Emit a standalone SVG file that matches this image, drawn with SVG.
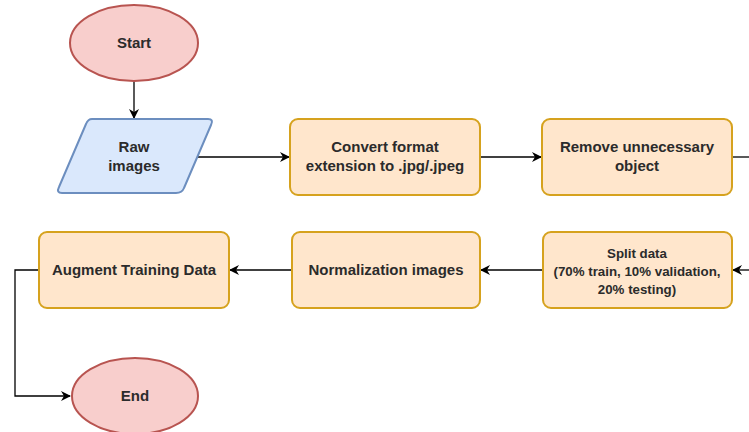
<svg xmlns="http://www.w3.org/2000/svg" width="749" height="432" viewBox="0 0 749 432">
  <defs>
    <marker id="arrow" viewBox="0 0 10 10" refX="9" refY="5" markerWidth="10" markerHeight="10" markerUnits="userSpaceOnUse" orient="auto">
      <path d="M0,0 L10,5 L0,10 L3,5 Z" fill="#000"/>
    </marker>
    <style>
      .term { fill: #f8cecc; stroke: #b85450; stroke-width: 2; }
      .io { fill: #dae8fc; stroke: #6c8ebf; stroke-width: 2; }
      .proc { fill: #ffe6cc; stroke: #d6a21e; stroke-width: 2; }
      .lbl { font-family: "Liberation Sans", Arial, sans-serif; font-size: 15px; font-weight: bold; fill: #2b2b2b; text-anchor: middle; }
      .small { font-size: 13.3px; }
      .edge { fill: none; stroke: #000; stroke-width: 1.3; }
    </style>
  </defs>

  <!-- connectors -->
  <g id="connectors">
    <path class="edge" d="M134,81 L134,118" marker-end="url(#arrow)"/>
    <path class="edge" d="M197,157 L289,157" marker-end="url(#arrow)"/>
    <path class="edge" d="M480,157 L541,157" marker-end="url(#arrow)"/>
    <path class="edge" d="M732,157 L749,157"/>
    <path class="edge" d="M749,270 L733,270" marker-end="url(#arrow)"/>
    <path class="edge" d="M543,270 L481,270" marker-end="url(#arrow)"/>
    <path class="edge" d="M292,270 L230,270" marker-end="url(#arrow)"/>
    <path class="edge" d="M39,270 L15,270 L15,396 L70,396" marker-end="url(#arrow)"/>
  </g>

  <g id="start">
    <ellipse class="term" cx="134" cy="43" rx="64" ry="38"/>
    <text class="lbl" x="134" y="48">Start</text>
  </g>

  <g id="raw-images">
    <path class="io" d="M92,119 L208,119 Q214,119 211,125 L184,188 Q182,193 176,193 L62,193 Q56,193 59,187 L86,124 Q88,119 92,119 Z"/>
    <text class="lbl" x="134" y="152">Raw</text>
    <text class="lbl" x="134" y="171">images</text>
  </g>

  <g id="convert-format">
    <rect class="proc" x="290" y="119" width="190" height="76" rx="8"/>
    <text class="lbl" x="385" y="152">Convert format</text>
    <text class="lbl" x="385" y="171">extension to .jpg/.jpeg</text>
  </g>

  <g id="remove-object">
    <rect class="proc" x="542" y="119" width="190" height="76" rx="8"/>
    <text class="lbl" x="637" y="152">Remove unnecessary</text>
    <text class="lbl" x="637" y="171">object</text>
  </g>

  <g id="split-data">
    <rect class="proc" x="543" y="232" width="189" height="76" rx="8"/>
    <text class="lbl small" x="637" y="258">Split data</text>
    <text class="lbl small" x="637" y="276">(70% train, 10% validation,</text>
    <text class="lbl small" x="637" y="294">20% testing)</text>
  </g>

  <g id="normalization">
    <rect class="proc" x="292" y="232" width="188" height="76" rx="8"/>
    <text class="lbl" x="386" y="275">Normalization images</text>
  </g>

  <g id="augment">
    <rect class="proc" x="39" y="232" width="190" height="76" rx="8"/>
    <text class="lbl" x="134" y="275">Augment Training Data</text>
  </g>

  <g id="end">
    <ellipse class="term" cx="135" cy="396" rx="63" ry="38"/>
    <text class="lbl" x="135" y="401">End</text>
  </g>
</svg>
